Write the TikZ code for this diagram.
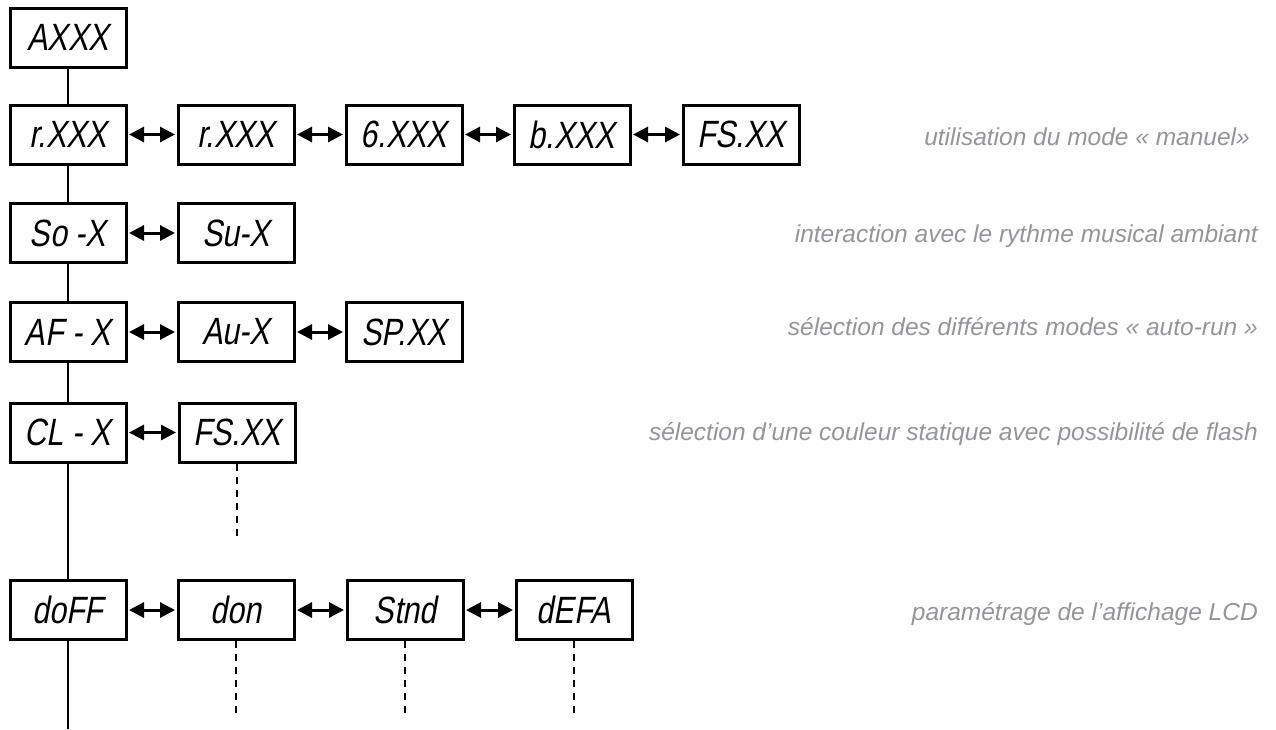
\documentclass[tikz,border=0pt]{standalone}
\usepackage{fontspec}
\setmainfont{Liberation Sans}
\newfontfamily\segfont[FakeStretch=0.8,FakeSlant=0.18]{Liberation Sans}
\usetikzlibrary{arrows.meta}
\definecolor{notegray}{RGB}{147,149,152}
\begin{document}
\begin{tikzpicture}[x=1pt,y=-1pt,
  disp/.style={draw,line width=3pt,minimum width=116pt,minimum height=59pt,inner sep=0pt,
    font=\segfont\fontsize{38}{38}\selectfont},
  link/.style={line width=2.6pt},
  swap/.style={line width=3pt,shorten <=1.5pt,shorten >=1.5pt,
    {Triangle[length=15pt,width=15pt]}-{Triangle[length=15pt,width=15pt]}},
  more/.style={line width=2.6pt,dash pattern=on 7pt off 6pt},
  note/.style={anchor=base east,text=notegray,inner sep=0pt,
    font=\itshape\fontsize{24.5}{28}\selectfont}]
\useasboundingbox (0,0) rectangle (1276,729);

% column 1 (main menu)
\node[disp] (a)    at (68,37.5)  {AXXX};
\node[disp] (r1)   at (68,134.5) {r.XXX};
\node[disp] (so)   at (68,233)   {So -X};
\node[disp] (af)   at (68,332)   {AF - X};
\node[disp] (cl)   at (68,432.5) {CL - X};
\node[disp] (doff) at (68,610)   {doFF};
\coordinate (trunkend) at (68,729);

% row 1
\node[disp] (r2)  at (236,134.5) {r.XXX};
\node[disp] (g)   at (404,134.5) {6.XXX};
\node[disp] (b)   at (572,134.5) {b.XXX};
\node[disp] (fs1) at (741,134.5) {FS.XX};
% row 2
\node[disp] (su)  at (236,233) {Su-X};
% row 3
\node[disp] (au)  at (236,332) {Au-X};
\node[disp] (sp)  at (404,332) {SP.XX};
% row 4
\node[disp] (fs2) at (237,432.5) {FS.XX};
\coordinate (fs2e) at (237,540);
% row 5
\node[disp] (don)  at (236,610) {don};
\node[disp] (stnd) at (405,610) {Stnd};
\node[disp] (defa) at (574,610) {dEFA};
\coordinate (done)  at (236,715);
\coordinate (stnde) at (405,715);
\coordinate (defae) at (574,715);

% trunk
\draw[link] (a) -- (r1);
\draw[link] (r1) -- (so);
\draw[link] (so) -- (af);
\draw[link] (af) -- (cl);
\draw[link] (cl) -- (doff);
\draw[link] (doff) -- (trunkend);

% double arrows
\draw[swap] (r1) -- (r2);
\draw[swap] (r2) -- (g);
\draw[swap] (g) -- (b);
\draw[swap] (b) -- (fs1);
\draw[swap] (so) -- (su);
\draw[swap] (af) -- (au);
\draw[swap] (au) -- (sp);
\draw[swap] (cl) -- (fs2);
\draw[swap] (doff) -- (don);
\draw[swap] (don) -- (stnd);
\draw[swap] (stnd) -- (defa);

% continuation (dashed)
\draw[more] (fs2) -- (fs2e);
\draw[more] (don) -- (done);
\draw[more] (stnd) -- (stnde);
\draw[more] (defa) -- (defae);

% notes
\node[note] (n1) at (1250,145) {utilisation du mode « manuel»};
\node[note] (n2) at (1258,242) {interaction avec le rythme musical ambiant};
\node[note] (n3) at (1258,335) {sélection des différents modes « auto-run »};
\node[note] (n4) at (1258,440) {sélection d’une couleur statique avec possibilité de flash};
\node[note] (n5) at (1258,620) {paramétrage de l’affichage LCD};
\end{tikzpicture}
\end{document}
